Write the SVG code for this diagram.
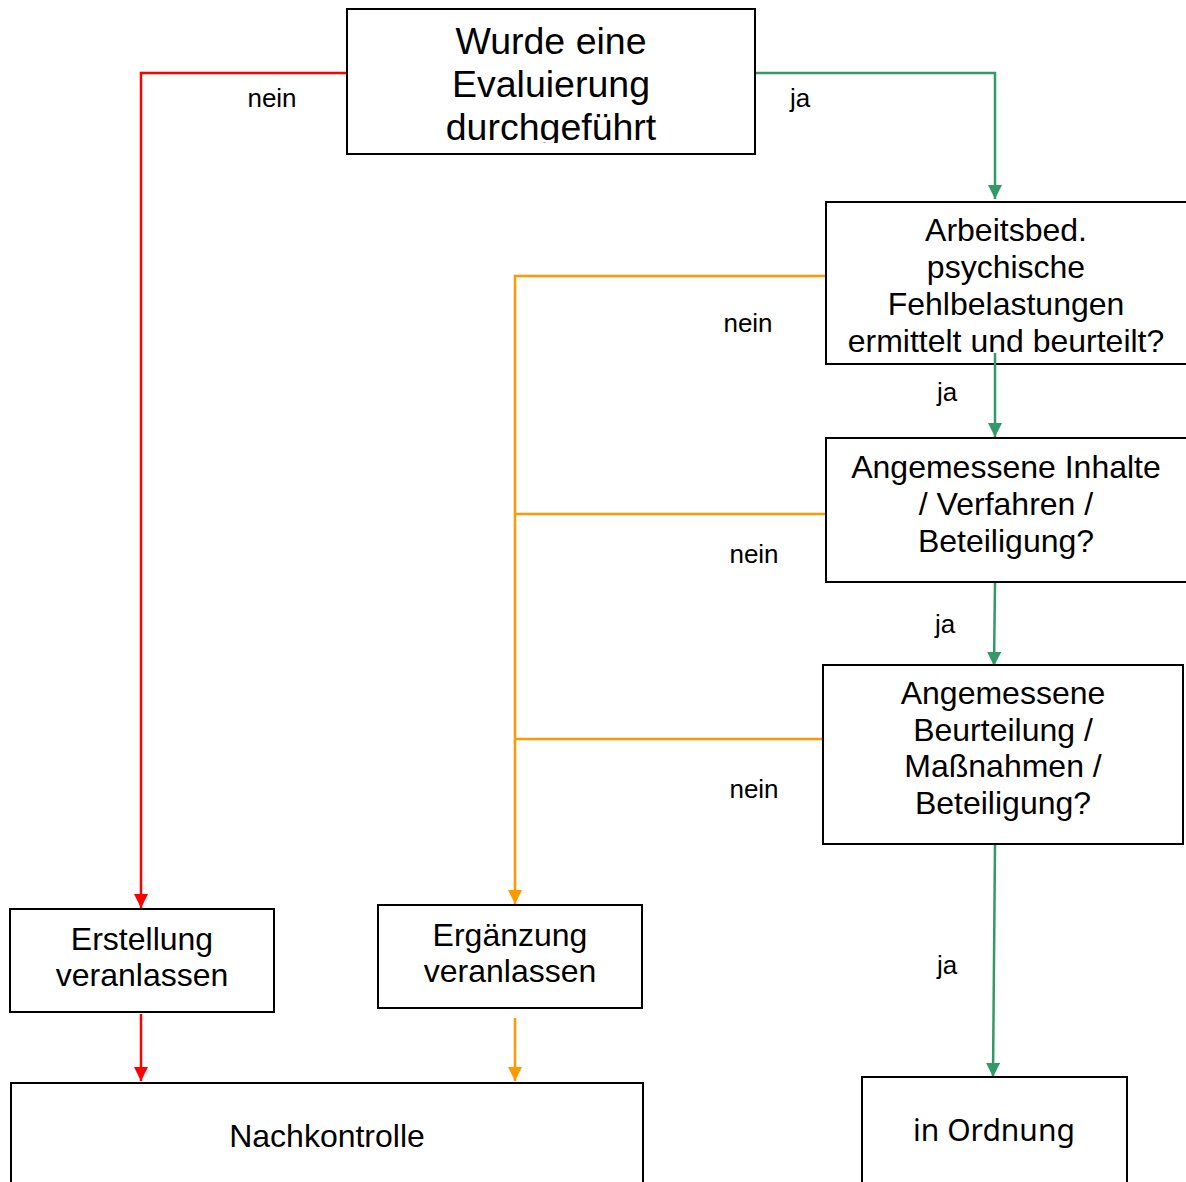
<svg xmlns="http://www.w3.org/2000/svg" width="1186" height="1182" viewBox="0 0 1186 1182">
<style>
.box{fill:#fff;stroke:#000;stroke-width:2}
.t{font-family:"Liberation Sans",Arial,sans-serif;fill:#000;text-anchor:middle}
.r{font-size:32px}
.lbl{font-family:"Liberation Sans",Arial,sans-serif;font-size:26px;fill:#000;text-anchor:middle}
.red{stroke:#ff0000;stroke-width:2.5;fill:none}
.grn{stroke:#339966;stroke-width:2.5;fill:none}
.org{stroke:#ff9900;stroke-width:2.5;fill:none}
</style>
<defs>
<marker id="aG" markerWidth="14" markerHeight="14" viewBox="0 0 14 14" refX="14" refY="7" orient="auto" markerUnits="userSpaceOnUse"><path d="M0,0 L14,7 L0,14 Z" fill="#339966"/></marker>
<marker id="aRd" markerWidth="14" markerHeight="14" viewBox="0 0 14 14" refX="14" refY="7" orient="auto" markerUnits="userSpaceOnUse"><path d="M0,0 L14,7 L0,14 Z" fill="#ff0000"/></marker>
<marker id="aO" markerWidth="14" markerHeight="14" viewBox="0 0 14 14" refX="14" refY="7" orient="auto" markerUnits="userSpaceOnUse"><path d="M0,0 L14,7 L0,14 Z" fill="#ff9900"/></marker>
<clipPath id="c1"><rect x="347" y="9" width="408" height="134"/></clipPath>
</defs>
<g id="connectors">
<path class="red" d="M347,73 H141 V908" marker-end="url(#aRd)"/>
<path class="grn" d="M755,73 H995 V199" marker-end="url(#aG)"/>
<path class="org" d="M826,276 H515 V904" marker-end="url(#aO)"/>
<path class="org" d="M515,514 H826"/>
<path class="org" d="M515,739 H823"/>
<path class="red" d="M141,1014 V1081" marker-end="url(#aRd)"/>
<path class="org" d="M515,1018 V1081" marker-end="url(#aO)"/>
<path class="grn" d="M995,583 L994,666" marker-end="url(#aG)"/>
<path class="grn" d="M995,845 L993,1077" marker-end="url(#aG)"/>
<text class="lbl" x="272" y="107">nein</text>
<text class="lbl" x="800" y="107">ja</text>
<text class="lbl" x="748" y="332">nein</text>
<text class="lbl" x="947" y="401">ja</text>
<text class="lbl" x="754" y="563">nein</text>
<text class="lbl" x="945" y="633">ja</text>
<text class="lbl" x="754" y="798">nein</text>
<text class="lbl" x="947" y="974">ja</text>
</g>
<g id="n1">
<rect class="box" x="347" y="9" width="408" height="145"/>
<g clip-path="url(#c1)">
<text class="t" font-size="37.5" x="551" y="54">Wurde eine</text>
<text class="t" font-size="37.5" x="551" y="97">Evaluierung</text>
<text class="t" font-size="37.5" x="551" y="140">durchgeführt</text>
</g>
</g>
<g id="n2">
<rect class="box" x="826" y="202" width="362" height="162"/>
<text class="t r" x="1006" y="241">Arbeitsbed.</text>
<text class="t r" x="1006" y="278">psychische</text>
<text class="t r" x="1006" y="315">Fehlbelastungen</text>
<text class="t r" x="1006" y="352">ermittelt und beurteilt?</text>
</g>
<path class="grn" d="M995,353 V437" marker-end="url(#aG)"/>
<g id="n3">
<rect class="box" x="826" y="438" width="362" height="144"/>
<text class="t r" x="1006" y="478">Angemessene Inhalte</text>
<text class="t r" x="1006" y="515">/ Verfahren /</text>
<text class="t r" x="1006" y="552">Beteiligung?</text>
</g>
<g id="n4">
<rect class="box" x="823" y="665" width="360" height="179"/>
<text class="t r" x="1003" y="704">Angemessene</text>
<text class="t r" x="1003" y="741">Beurteilung /</text>
<text class="t r" x="1003" y="777">Maßnahmen /</text>
<text class="t r" x="1003" y="814">Beteiligung?</text>
</g>
<g id="n5">
<rect class="box" x="10" y="909" width="264" height="103"/>
<text class="t r" x="142" y="950">Erstellung</text>
<text class="t r" x="142" y="986">veranlassen</text>
</g>
<g id="n6">
<rect class="box" x="378" y="905" width="264" height="103"/>
<text class="t r" x="510" y="946">Ergänzung</text>
<text class="t r" x="510" y="982">veranlassen</text>
</g>
<g id="n7">
<rect class="box" x="11" y="1083" width="632" height="110"/>
<text class="t r" x="327" y="1147">Nachkontrolle</text>
</g>
<g id="n8">
<rect class="box" x="862" y="1077" width="265" height="115"/>
<text class="t" font-size="30" x="994" y="1141" style="font-family:'Noto Sans','Open Sans',sans-serif">in Ordnung</text>
</g>
</svg>
